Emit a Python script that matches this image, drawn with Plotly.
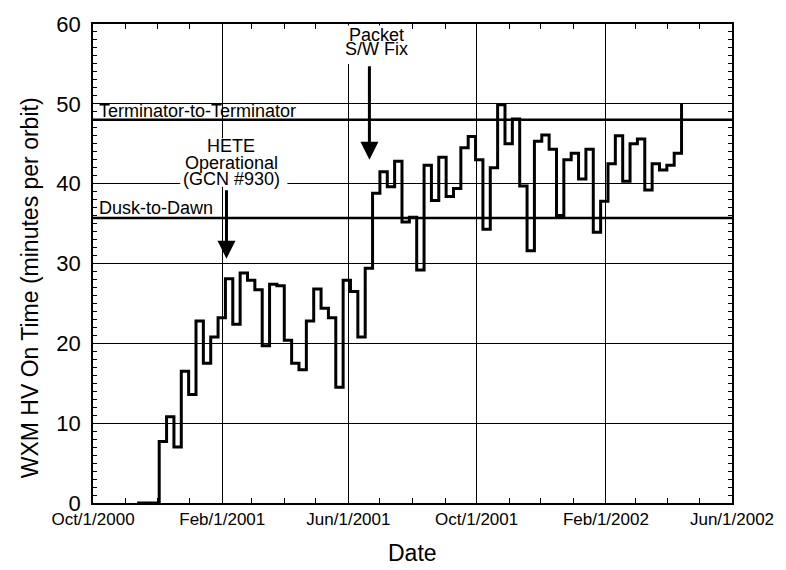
import plotly.graph_objects as go
import pandas as pd

# Weekly WXM HV on-time (minutes per orbit), weeks starting 2000-11-12
week_start = "2000-11-12"
on_time = [0, 0, 0,
           7.7, 10.8, 7.0, 16.5, 13.6, 22.8, 17.5, 20.8, 23.2, 28.1,
           22.4, 28.8, 27.9, 26.7, 19.7, 27.4, 27.2, 20.4, 17.5, 16.7,
           22.8, 26.8, 24.4, 23.2, 14.5, 27.9, 26.5, 20.8, 29.4, 38.8,
           41.5, 39.6, 42.8, 35.2, 35.8, 29.2, 42.3, 37.9, 43.3, 38.4,
           39.4, 44.5, 45.9, 43.0, 34.3, 42.0, 49.9, 45.0, 48.1, 39.7,
           31.6, 45.3, 46.1, 44.3, 36.0, 43.0, 43.8, 40.6, 44.3, 33.9,
           37.8, 42.5, 46.0, 40.3, 45.0, 45.6, 39.2, 42.5, 41.7, 42.3,
           43.8, 50.1]
dates = pd.date_range(start=week_start, periods=len(on_time), freq="7D")

# Reference levels
ref_levels = [48.0, 35.7]
ref_labels = ["Terminator-to-Terminator", "Dusk-to-Dawn"]
ref_label_y = [49.1, 36.9]

# Axis ticks
x_tickvals = ["2000-10-01", "2001-02-01", "2001-06-01", "2001-10-01", "2002-02-01", "2002-06-01"]
x_ticktext = ["Oct/1/2000", "Feb/1/2001", "Jun/1/2001", "Oct/1/2001", "Feb/1/2002", "Jun/1/2002"]
y_tickvals = [0, 10, 20, 30, 40, 50, 60]

FONT = "Liberation Sans, Arial, Helvetica, sans-serif"

fig = go.Figure()
fig.add_trace(go.Scatter(
    x=dates, y=on_time, mode="lines", line_shape="hv",
    line=dict(color="black", width=3), showlegend=False,
))

shapes = []
for lv in ref_levels:
    shapes.append(dict(type="line", xref="paper", x0=0, x1=1, yref="y", y0=lv, y1=lv,
                       line=dict(color="black", width=2.5), layer="below"))
# white backgrounds behind the event labels (hide grid lines)
shapes.append(dict(type="rect", xref="x", yref="y", x0="2000-12-23", x1="2001-04-04",
                   y0=39.6, y1=45.7, fillcolor="white", line=dict(width=0), layer="above"))
shapes.append(dict(type="rect", xref="x", yref="y", x0="2001-05-27", x1="2001-07-29",
                   y0=55.0, y1=59.8, fillcolor="white", line=dict(width=0), layer="above"))

annotations = []
for lab, ly in zip(ref_labels, ref_label_y):
    annotations.append(dict(x="2000-10-04 20:00", y=ly, xref="x", yref="y", text=lab,
                            showarrow=False, xanchor="left", yanchor="middle",
                            font=dict(family=FONT, size=18, color="black")))

# HETE Operational annotation
hete_lines = ["HETE", "Operational", "(GCN #930)"]
hete_y = [44.7, 42.6, 40.6]
for t, ty in zip(hete_lines, hete_y):
    annotations.append(dict(x="2001-02-09 10:00", y=ty, xref="x", yref="y", text=t,
                            showarrow=False, xanchor="center", yanchor="middle",
                            font=dict(family=FONT, size=18, color="black")))
annotations.append(dict(x="2001-02-05", y=30.6, xref="x", yref="y", text="",
                        showarrow=True, ax=0, ay=-70, arrowhead=2, arrowsize=1.2,
                        arrowwidth=3, arrowcolor="black"))

# Packet S/W Fix annotation
pk_lines = ["Packet", "S/W Fix"]
pk_y = [58.6, 56.9]
for t, ty in zip(pk_lines, pk_y):
    annotations.append(dict(x="2001-06-27 12:00", y=ty, xref="x", yref="y", text=t,
                            showarrow=False, xanchor="center", yanchor="middle",
                            font=dict(family=FONT, size=18, color="black")))
annotations.append(dict(x="2001-06-21", y=43.0, xref="x", yref="y", text="",
                        showarrow=True, ax=0, ay=-95, arrowhead=2, arrowsize=1.2,
                        arrowwidth=3, arrowcolor="black"))

# Axis titles
annotations.append(dict(x=-0.098, y=0.449, xref="paper", yref="paper",
                        text="WXM HV On Time (minutes per orbit)", textangle=-90,
                        showarrow=False, xanchor="center", yanchor="middle",
                        font=dict(family=FONT, size=23, color="black")))
annotations.append(dict(x=0.5, y=-0.1035, xref="paper", yref="paper", text="Date",
                        showarrow=False, xanchor="center", yanchor="middle",
                        font=dict(family=FONT, size=23, color="black")))

fig.update_layout(
    width=786, height=570,
    margin=dict(l=93, r=50, t=20, b=67),
    paper_bgcolor="white", plot_bgcolor="white",
    shapes=shapes, annotations=annotations,
    font=dict(family=FONT, color="black"),
)
fig.update_xaxes(
    type="date", range=["2000-10-01", "2002-06-01"],
    tickvals=x_tickvals, ticktext=x_ticktext,
    tickfont=dict(family=FONT, size=17, color="black"),
    ticks="inside", ticklen=6, tickcolor="black",
    showgrid=True, gridcolor="black", gridwidth=1,
    showline=True, linecolor="black", linewidth=1.5, mirror="ticks",
    zeroline=False,
    minor=dict(dtick="M1", tick0="2000-10-01", ticks="inside", ticklen=5,
               tickcolor="black", showgrid=False),
)
fig.update_yaxes(
    range=[0, 60], tickvals=y_tickvals,
    tickfont=dict(family=FONT, size=22, color="black"),
    ticks="inside", ticklen=6, tickcolor="black", ticklabelstandoff=6,
    showgrid=True, gridcolor="black", gridwidth=1,
    showline=True, linecolor="black", linewidth=1.5, mirror="ticks",
    zeroline=False,
    minor=dict(dtick=1, ticks="inside", ticklen=4, tickcolor="black", showgrid=False),
)

fig.write_html("out.html")
